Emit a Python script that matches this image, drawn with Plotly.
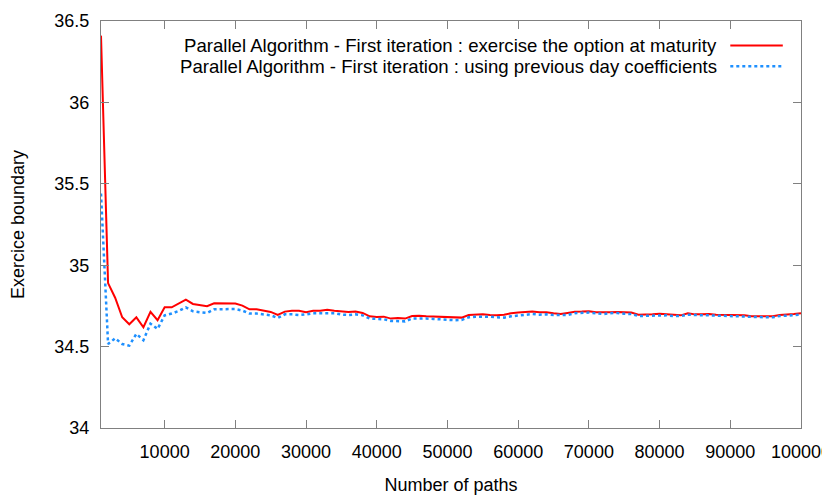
import plotly.graph_objects as go

paths = list(range(1000, 100001, 1000))

maturity = [
    36.41, 34.89, 34.80, 34.68, 34.637, 34.68, 34.619, 34.713, 34.662, 34.741,
    34.741, 34.762, 34.788, 34.762, 34.754, 34.748, 34.766, 34.766, 34.762, 34.764,
    34.752, 34.729, 34.729, 34.719, 34.713, 34.694, 34.715, 34.72, 34.72, 34.711,
    34.72, 34.72, 34.727, 34.72, 34.717, 34.713, 34.715, 34.707, 34.686, 34.682,
    34.684, 34.672, 34.676, 34.672, 34.688, 34.690, 34.686, 34.684, 34.682, 34.684,
    34.678, 34.678, 34.694, 34.696, 34.698, 34.694, 34.692, 34.696, 34.705, 34.709,
    34.713, 34.715, 34.711, 34.711, 34.705, 34.700, 34.707, 34.714, 34.715, 34.717,
    34.711, 34.709, 34.711, 34.713, 34.711, 34.709, 34.696, 34.696, 34.698, 34.702,
    34.700, 34.696, 34.692, 34.705, 34.698, 34.698, 34.700, 34.696, 34.696, 34.694,
    34.694, 34.692, 34.686, 34.686, 34.684, 34.686, 34.694, 34.696, 34.700, 34.705,
]

previous_day = [
    35.44, 34.516, 34.551, 34.516, 34.506, 34.578, 34.539, 34.641, 34.608, 34.692,
    34.703, 34.719, 34.741, 34.717, 34.711, 34.707, 34.729, 34.731, 34.731, 34.731,
    34.721, 34.703, 34.703, 34.698, 34.692, 34.676, 34.698, 34.698, 34.694, 34.698,
    34.705, 34.705, 34.707, 34.705, 34.697, 34.694, 34.698, 34.692, 34.672, 34.668,
    34.668, 34.658, 34.658, 34.655, 34.672, 34.674, 34.672, 34.670, 34.666, 34.666,
    34.662, 34.664, 34.680, 34.684, 34.686, 34.684, 34.680, 34.678, 34.686, 34.692,
    34.696, 34.700, 34.696, 34.698, 34.694, 34.692, 34.694, 34.705, 34.707, 34.709,
    34.705, 34.700, 34.705, 34.707, 34.702, 34.700, 34.688, 34.690, 34.692, 34.694,
    34.692, 34.688, 34.688, 34.696, 34.692, 34.692, 34.692, 34.690, 34.690, 34.690,
    34.688, 34.686, 34.682, 34.680, 34.680, 34.680, 34.688, 34.690, 34.692, 34.696,
]

x_ticks = [10000, 20000, 30000, 40000, 50000, 60000, 70000, 80000, 90000, 100000]
y_ticks = [34, 34.5, 35, 35.5, 36, 36.5]
y_tick_labels = ["34", "34.5", "35", "35.5", "36", "36.5"]

name_maturity = "Parallel Algorithm - First iteration : exercise the option at maturity"
name_previous = "Parallel Algorithm - First iteration : using previous day coefficients"

FONT = "Liberation Sans"
FS = 18
RED = "#ff0000"
BLUE = "#1e90ff"
AXIS = "#808080"

fig = go.Figure()
fig.add_trace(go.Scatter(x=paths, y=maturity, mode="lines", name=name_maturity,
                         line=dict(color=RED, width=2)))
fig.add_trace(go.Scatter(x=paths, y=previous_day, mode="lines", name=name_previous,
                         line=dict(color=BLUE, width=2.5, dash="dot")))

axis_common = dict(showline=True, linecolor=AXIS, linewidth=1, mirror="allticks",
                   ticks="inside", ticklen=8, tickcolor=AXIS, tickwidth=1,
                   showgrid=False, zeroline=False, automargin=False,
                   ticklabeloverflow="allow",
                   tickfont=dict(family=FONT, size=FS, color="black"))

fig.update_xaxes(range=[1000, 100000], tickvals=x_ticks,
                 ticktext=[str(v) for v in x_ticks], ticklabelstandoff=7,
                 title=dict(text="Number of paths", font=dict(family=FONT, size=FS, color="black"),
                            standoff=17),
                 **axis_common)
fig.update_yaxes(range=[34, 36.5], tickvals=y_ticks, ticktext=y_tick_labels,
                 ticklabelstandoff=7,
                 title=dict(text="Exercice boundary", font=dict(family=FONT, size=FS, color="black"),
                            standoff=25),
                 **axis_common)

# legend: right-aligned text with line sample on the right (gnuplot style)
legend_rows = [(name_maturity, RED, "solid", 2, 0.940), (name_previous, BLUE, "dot", 2.5, 0.889)]
for text, color, dash, width, yp in legend_rows:
    fig.add_annotation(xref="paper", yref="paper", x=0.883, y=yp, xanchor="right", yanchor="middle",
                       text=text, showarrow=False, font=dict(family=FONT, size=18.6, color="black"))
    fig.add_shape(type="line", xref="paper", yref="paper", x0=0.899, x1=0.974, y0=yp, y1=yp,
                  line=dict(color=color, width=width, dash=dash))

fig.update_layout(width=822, height=490, showlegend=False,
                  margin=dict(l=93, r=29, t=13, b=70),
                  plot_bgcolor="white", paper_bgcolor="white",
                  font=dict(family=FONT, size=FS, color="black"))

fig.write_html("out.html")
